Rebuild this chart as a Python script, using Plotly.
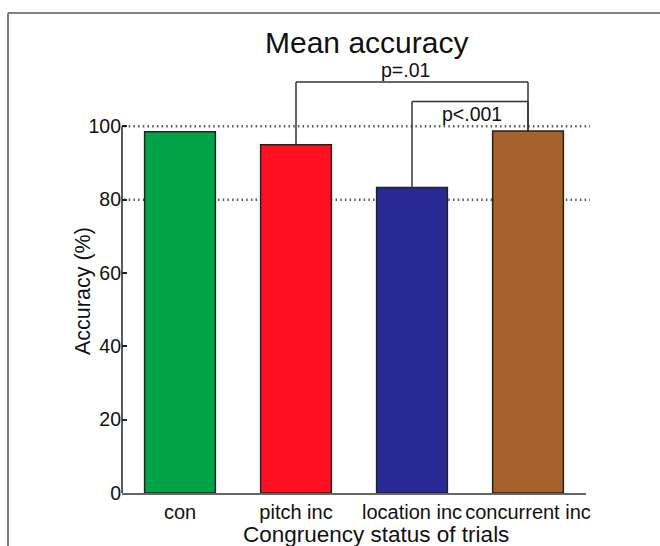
import plotly.graph_objects as go

categories = ["con", "pitch inc", "location inc", "concurrent inc"]
accuracy = [98.5, 95.0, 83.3, 98.7]
bar_colors = ["#00A447", "#FF1020", "#292996", "#A5632B"]
ytick_vals = [0, 20, 40, 60, 80, 100]
grid_vals = [80, 100]
# significance brackets: (left idx, right idx, bracket height, label, label x, label height)
brackets = [(1, 3, 112.1, "p=.01", 2.94, 115.3), (2, 3, 106.8, "p<.001", 3.52, 103.4)]

title_text = "Mean accuracy"
xlabel = "Congruency status of trials"
ylabel = "Accuracy (%)"

# geometry (pixels)
W, H = 660, 546
L, R, T, B = 122, 74, 34, 53
plot_w = W - L - R
plot_h = H - T - B
px_per_unit = 73.333 / 20.0
YMAX = plot_h / px_per_unit

def px_x(p):
    return (p - L) / plot_w

def px_y(p):
    return (H - B - p) / plot_h

FONT = "Liberation Sans, Arial, sans-serif"

x_pos = list(range(1, len(categories) + 1))

fig = go.Figure()
fig.add_trace(go.Bar(
    x=x_pos, y=accuracy, width=0.61,
    marker=dict(color=bar_colors, line=dict(color="#222222", width=1.5)),
    showlegend=False,
))

shapes = []
# dotted reference lines
for g in grid_vals:
    shapes.append(dict(type="line", xref="paper", yref="y", x0=px_x(124), x1=px_x(590),
                       y0=g, y1=g, layer="below",
                       line=dict(color="#5a5a5a", width=2.5, dash="1.5px,3.2px")))
# y axis line (0..100)
shapes.append(dict(type="line", xref="paper", yref="y", x0=0, x1=0, y0=0, y1=max(ytick_vals),
                   line=dict(color="#222222", width=1.5)))
# brackets
for li, ri, h, lab, lx, ly in brackets:
    xl, xr = x_pos[li], x_pos[ri]
    shapes.append(dict(type="line", xref="x", yref="y", x0=xl, x1=xl, y0=accuracy[li], y1=h,
                       line=dict(color="#333333", width=1.5)))
    shapes.append(dict(type="line", xref="x", yref="y", x0=xl, x1=xr, y0=h, y1=h,
                       line=dict(color="#333333", width=1.5)))
    shapes.append(dict(type="line", xref="x", yref="y", x0=xr, x1=xr, y0=accuracy[ri], y1=h,
                       line=dict(color="#333333", width=1.5)))
# outer frame (top and left)
shapes.append(dict(type="line", xref="paper", yref="paper", x0=px_x(8), x1=px_x(662),
                   y0=px_y(13), y1=px_y(13), line=dict(color="#808080", width=2)))
shapes.append(dict(type="line", xref="paper", yref="paper", x0=px_x(8), x1=px_x(8),
                   y0=px_y(13), y1=px_y(548), line=dict(color="#808080", width=2)))

annotations = []
for li, ri, h, lab, lx, ly in brackets:
    annotations.append(dict(x=lx, y=ly, xref="x", yref="y",
                            text=lab, showarrow=False, xanchor="center", yanchor="middle",
                            font=dict(family=FONT, size=19.5, color="#111111")))
annotations.append(dict(x=px_x(366), y=px_y(42), xref="paper", yref="paper", text=title_text,
                        showarrow=False, xanchor="center", yanchor="middle",
                        font=dict(family=FONT, size=30, color="#111111")))
annotations.append(dict(x=px_x(83), y=px_y(291), xref="paper", yref="paper", text=ylabel,
                        textangle=-90, showarrow=False, xanchor="center", yanchor="middle",
                        font=dict(family=FONT, size=21.5, color="#111111")))
annotations.append(dict(x=px_x(376), y=px_y(534), xref="paper", yref="paper", text=xlabel,
                        showarrow=False, xanchor="center", yanchor="middle",
                        font=dict(family=FONT, size=22.5, color="#111111")))

fig.update_layout(
    width=W, height=H,
    margin=dict(l=L, r=R, t=T, b=B, pad=0),
    paper_bgcolor="white", plot_bgcolor="white",
    shapes=shapes, annotations=annotations,
    xaxis=dict(range=[0.5, 4.5], tickvals=x_pos, ticktext=categories,
               showline=True, linecolor="#666666", linewidth=2,
               ticks="", showgrid=False, zeroline=False,
               tickfont=dict(family=FONT, size=20, color="#111111")),
    yaxis=dict(range=[0, YMAX], tickvals=ytick_vals, showline=False, showgrid=False,
               zeroline=False, ticks="inside", ticklen=5, tickwidth=1.5, tickcolor="#222222",
               tickfont=dict(family=FONT, size=19.5, color="#111111")),
    font=dict(family=FONT),
)

fig.write_html("out.html")
